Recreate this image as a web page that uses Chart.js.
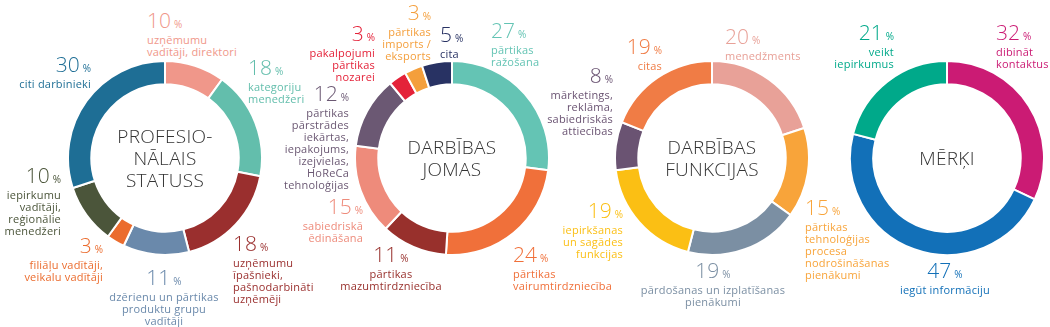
<!DOCTYPE html>
<html>
<head>
<meta charset="utf-8">
<script src="https://cdn.jsdelivr.net/npm/chart.js@4.4.0/dist/chart.umd.min.js"></script>
<style>
  html, body { margin: 0; padding: 0; background: #fff; }
  #wrap { position: relative; width: 1050px; height: 327px; overflow: hidden; font-family: "Open Sans", "Noto Sans", sans-serif; }
  canvas.pie { position: absolute; }
  .center { position: absolute; transform: translate(-50%, -50%); text-align: center; font-size: 19px; font-weight: 300; line-height: 22px; color: #333; white-space: nowrap; letter-spacing: 0.3px; }
  .lbl { position: absolute; white-space: nowrap; }
  .lbl .num { font-size: 21px; font-weight: 300; line-height: 20px; }
  .lbl .pct { font-size: 10px; font-weight: 400; margin-left: 3px; }
  .lbl .txt { font-size: 11px; line-height: 12px; letter-spacing: 0.2px; }
</style>
</head>
<body>
<div id="wrap"></div>
<script>
// ---------- DATA ----------
const titles = [["PROFESIO-", "NĀLAIS", "STATUSS"], ["DARBĪBAS", "JOMAS"], ["DARBĪBAS", "FUNKCIJAS"], ["MĒRĶI"]];

const statussLabels = ["uzņēmumu\nvadītāji, direktori", "kategoriju\nmenedžeri", "uzņēmumu\nīpašnieki,\npašnodarbināti\nuzņēmēji", "dzērienu un pārtikas\nproduktu grupu\nvadītāji", "filiāļu vadītāji,\nveikalu vadītāji", "iepirkumu\nvadītāji,\nreģionālie\nmenedžeri", "citi darbinieki"];
const statussValues = [10, 18, 18, 11, 3, 10, 30];

const jomasLabels = ["pārtikas\nražošana", "pārtikas\nvairumtirdzniecība", "pārtikas\nmazumtirdzniecība", "sabiedriskā\nēdināšana", "pārtikas\npārstrādes\niekārtas,\niepakojums,\nizejvielas,\nHoReCa\ntehnoloģijas", "pakalpojumi\npārtikas\nnozarei", "pārtikas\nimports /\neksports", "cita"];
const jomasValues = [27, 24, 11, 15, 12, 3, 3, 5];

const funkcijasLabels = ["menedžments", "pārtikas\ntehnoloģijas\nprocesa\nnodrošināšanas\npienākumi", "pārdošanas un izplatīšanas\npienākumi", "iepirkšanas\nun sagādes\nfunkcijas", "mārketings,\nreklāma,\nsabiedriskās\nattiecības", "citas"];
const funkcijasValues = [20, 15, 19, 19, 8, 19];

const merkiLabels = ["dibināt\nkontaktus", "iegūt informāciju", "veikt\niepirkumus"];
const merkiValues = [32, 47, 21];

// ---------- STYLE / LAYOUT ----------
const statussColors = ["#F0978A", "#63BEAC", "#9A2F2E", "#6A89AB", "#EB6C2E", "#4B553A", "#1E6E95"];
const jomasColors = ["#64C4B4", "#F0703A", "#98302C", "#EE8B7B", "#6B5873", "#E42239", "#F49F3C", "#283263"];
const funkcijasColors = ["#E8A198", "#F8A43A", "#7B8FA3", "#FBBF14", "#6A5372", "#F07C45"];
const merkiColors = ["#CB1B74", "#1270B8", "#00A98A"];

// chart centers (px) and label anchors: [align, x, top]
const charts = [
  { labels: statussLabels, values: statussValues, colors: statussColors, cx: 165, cy: 158,
    pos: [["l", 147, 10], ["l", 248, 57], ["l", 233, 233], ["c", 164, 267], ["r", 103, 235], ["r", 61, 165], ["r", 91, 54]] },
  { labels: jomasLabels, values: jomasValues, colors: jomasColors, cx: 452, cy: 158,
    pos: [["l", 491, 20], ["l", 513, 244], ["c", 391, 244], ["r", 363, 196], ["r", 349, 83], ["r", 375, 23], ["r", 431, 2], ["l", 440, 24]] },
  { labels: funkcijasLabels, values: funkcijasValues, colors: funkcijasColors, cx: 712, cy: 158,
    pos: [["l", 725, 26], ["l", 805, 197], ["c", 713, 260], ["r", 623, 200], ["r", 613, 65], ["r", 662, 36]] },
  { labels: merkiLabels, values: merkiValues, colors: merkiColors, cx: 947, cy: 158,
    pos: [["l", 996, 22], ["c", 945, 260], ["r", 894, 22]] }
];

const SIZE = 196;
const wrap = document.getElementById('wrap');

charts.forEach((c, i) => {
  const cv = document.createElement('canvas');
  cv.className = 'pie';
  cv.width = SIZE; cv.height = SIZE;
  cv.style.left = (c.cx - SIZE / 2) + 'px';
  cv.style.top = (c.cy - SIZE / 2) + 'px';
  cv.style.width = SIZE + 'px'; cv.style.height = SIZE + 'px';
  wrap.appendChild(cv);

  new Chart(cv, {
    type: 'doughnut',
    data: {
      labels: c.labels.map(s => s.replace(/\n/g, ' ')),
      datasets: [{ data: c.values, backgroundColor: c.colors, borderColor: '#ffffff', borderWidth: 2, hoverOffset: 0 }]
    },
    options: {
      responsive: false, animation: false, devicePixelRatio: 1,
      cutout: '76%', rotation: 0,
      layout: { padding: 0 },
      events: [],
      plugins: { legend: { display: false }, tooltip: { enabled: false } }
    }
  });

  const ct = document.createElement('div');
  ct.className = 'center';
  ct.style.left = c.cx + 'px';
  ct.style.top = c.cy + 'px';
  ct.innerHTML = titles[i].join('<br>');
  wrap.appendChild(ct);

  c.values.forEach((v, j) => {
    const [al, x, top] = c.pos[j];
    const d = document.createElement('div');
    d.className = 'lbl';
    d.style.color = c.colors[j];
    d.style.top = top + 'px';
    if (al === 'l') { d.style.left = x + 'px'; d.style.textAlign = 'left'; }
    else if (al === 'r') { d.style.right = (1050 - x) + 'px'; d.style.textAlign = 'right'; }
    else { d.style.left = x + 'px'; d.style.transform = 'translateX(-50%)'; d.style.textAlign = 'center'; }
    const num = document.createElement('div');
    num.className = 'num';
    num.innerHTML = v + '<span class="pct">%</span>';
    const txt = document.createElement('div');
    txt.className = 'txt';
    txt.innerHTML = c.labels[j].split('\n').join('<br>');
    d.appendChild(num); d.appendChild(txt);
    wrap.appendChild(d);
  });
});
</script>
</body>
</html>
